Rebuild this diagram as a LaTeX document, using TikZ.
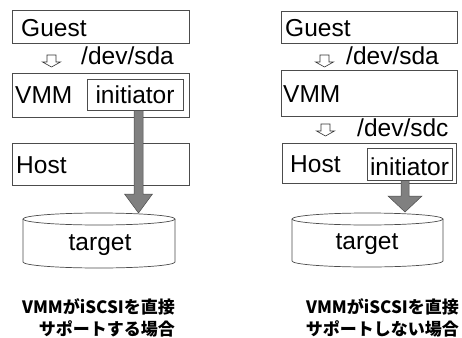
\documentclass[tikz,border=0pt]{standalone}
\usepackage{fontspec}
\setmainfont{Liberation Sans}
\newfontfamily\cjk{Noto Sans CJK JP}
\usetikzlibrary{calc}
\begin{document}
\begin{tikzpicture}[x=1pt,y=-1pt,
  box/.style={draw=black!70, line width=0.7pt, fill=white, inner sep=0pt, anchor=north west},
  lbl/.style={font=\fontsize{24.5}{28}\selectfont, inner sep=0pt, anchor=base west},
  clbl/.style={lbl, anchor=base},
  captxt/.style={font=\cjk\bfseries\fontsize{17}{20}\selectfont, inner sep=0pt, anchor=base east},
  cyl/.style={draw=black!70, line width=0.7pt, fill=white},
  bigarrow/.style={fill=black!50, draw=black!70, line width=0.5pt},
  smallarr/.pic={\draw[black!80, line width=0.6pt] (-4.5,-7) -- (-4.5,0) -- (-9,0) -- (0,5) -- (9,0) -- (4.5,0) -- (4.5,-7) -- cycle;}
]
\useasboundingbox (0,0) rectangle (462,337);

% ---------------- left column ----------------
\node[box, minimum width=177pt, minimum height=33pt] (lg) at (12,10) {};
\node[lbl] (lgt) at (21,37) {Guest};
\pic at (51.5,62) {smallarr};
\node[lbl] (lsda) at (81,64) {/dev/sda};
\node[box, minimum width=177pt, minimum height=44pt] (lv) at (12,73) {};
\node[lbl] (lvt) at (15,103) {VMM};
\node[box, minimum width=96pt, minimum height=31pt] (li) at (87,79) {};
\node[clbl] (lit) at (135,103) {initiator};
\node[box, minimum width=177pt, minimum height=42pt] (lh) at (12,143) {};
\node[lbl] (lht) at (16,173) {Host};
% cylinder
\draw[cyl] (23,219) -- (23,262) arc[start angle=180, end angle=0, x radius=76, y radius=6] -- (175,219);
\draw[cyl] (99,219) ellipse [x radius=76, y radius=6];
\node[clbl] (lt) at (100,250) {target};
\coordinate (ltip) at (138.5,213);
\draw[bigarrow] ($(li.south -| ltip)+(-4.5,0)$) -- ($(ltip)+(-4.5,-19)$) -- ($(ltip)+(-14,-19)$) -- (ltip)
  -- ($(ltip)+(14,-19)$) -- ($(ltip)+(4.5,-19)$) -- ($(li.south -| ltip)+(4.5,0)$) -- cycle;

% ---------------- right column ----------------
\node[box, minimum width=176pt, minimum height=32pt] (rg) at (281,11) {};
\node[lbl] (rgt) at (285,37) {Guest};
\pic at (324.5,62) {smallarr};
\node[lbl] (rsda) at (346,64) {/dev/sda};
\node[box, minimum width=176pt, minimum height=46pt] (rv) at (281,70) {};
\node[lbl] (rvt) at (283,102) {VMM};
\pic at (325.5,131) {smallarr};
\node[lbl] (rsdc) at (357,136) {/dev/sdc};
\node[box, minimum width=174pt, minimum height=40pt] (rh) at (282,143) {};
\node[lbl] (rht) at (290,172) {Host};
\node[box, minimum width=85pt, minimum height=32pt] (ri) at (367,148) {};
\node[clbl] (rit) at (409.5,175) {initiator};
% cylinder
\draw[cyl] (292,219) -- (292,261) arc[start angle=180, end angle=0, x radius=75.5, y radius=6] -- (443,219);
\draw[cyl] (367.5,219) ellipse [x radius=75.5, y radius=6];
\node[clbl] (rt) at (367,249) {target};
\coordinate (rtip) at (405,212);
\draw[bigarrow] ($(ri.south -| rtip)+(-4,0)$) -- ($(rtip)+(-4,-16)$) -- ($(rtip)+(-17,-16)$) -- (rtip)
  -- ($(rtip)+(17,-16)$) -- ($(rtip)+(4,-16)$) -- ($(ri.south -| rtip)+(4,0)$) -- cycle;

% ---------------- captions ----------------
\node[captxt] (lc1) at (175,313) {VMMがiSCSIを直接};
\node[captxt] (lc2) at (175,335) {サポートする場合};
\node[captxt] (rc1) at (459,313) {VMMがiSCSIを直接};
\node[captxt] (rc2) at (459,335) {サポートしない場合};
\end{tikzpicture}
\end{document}
